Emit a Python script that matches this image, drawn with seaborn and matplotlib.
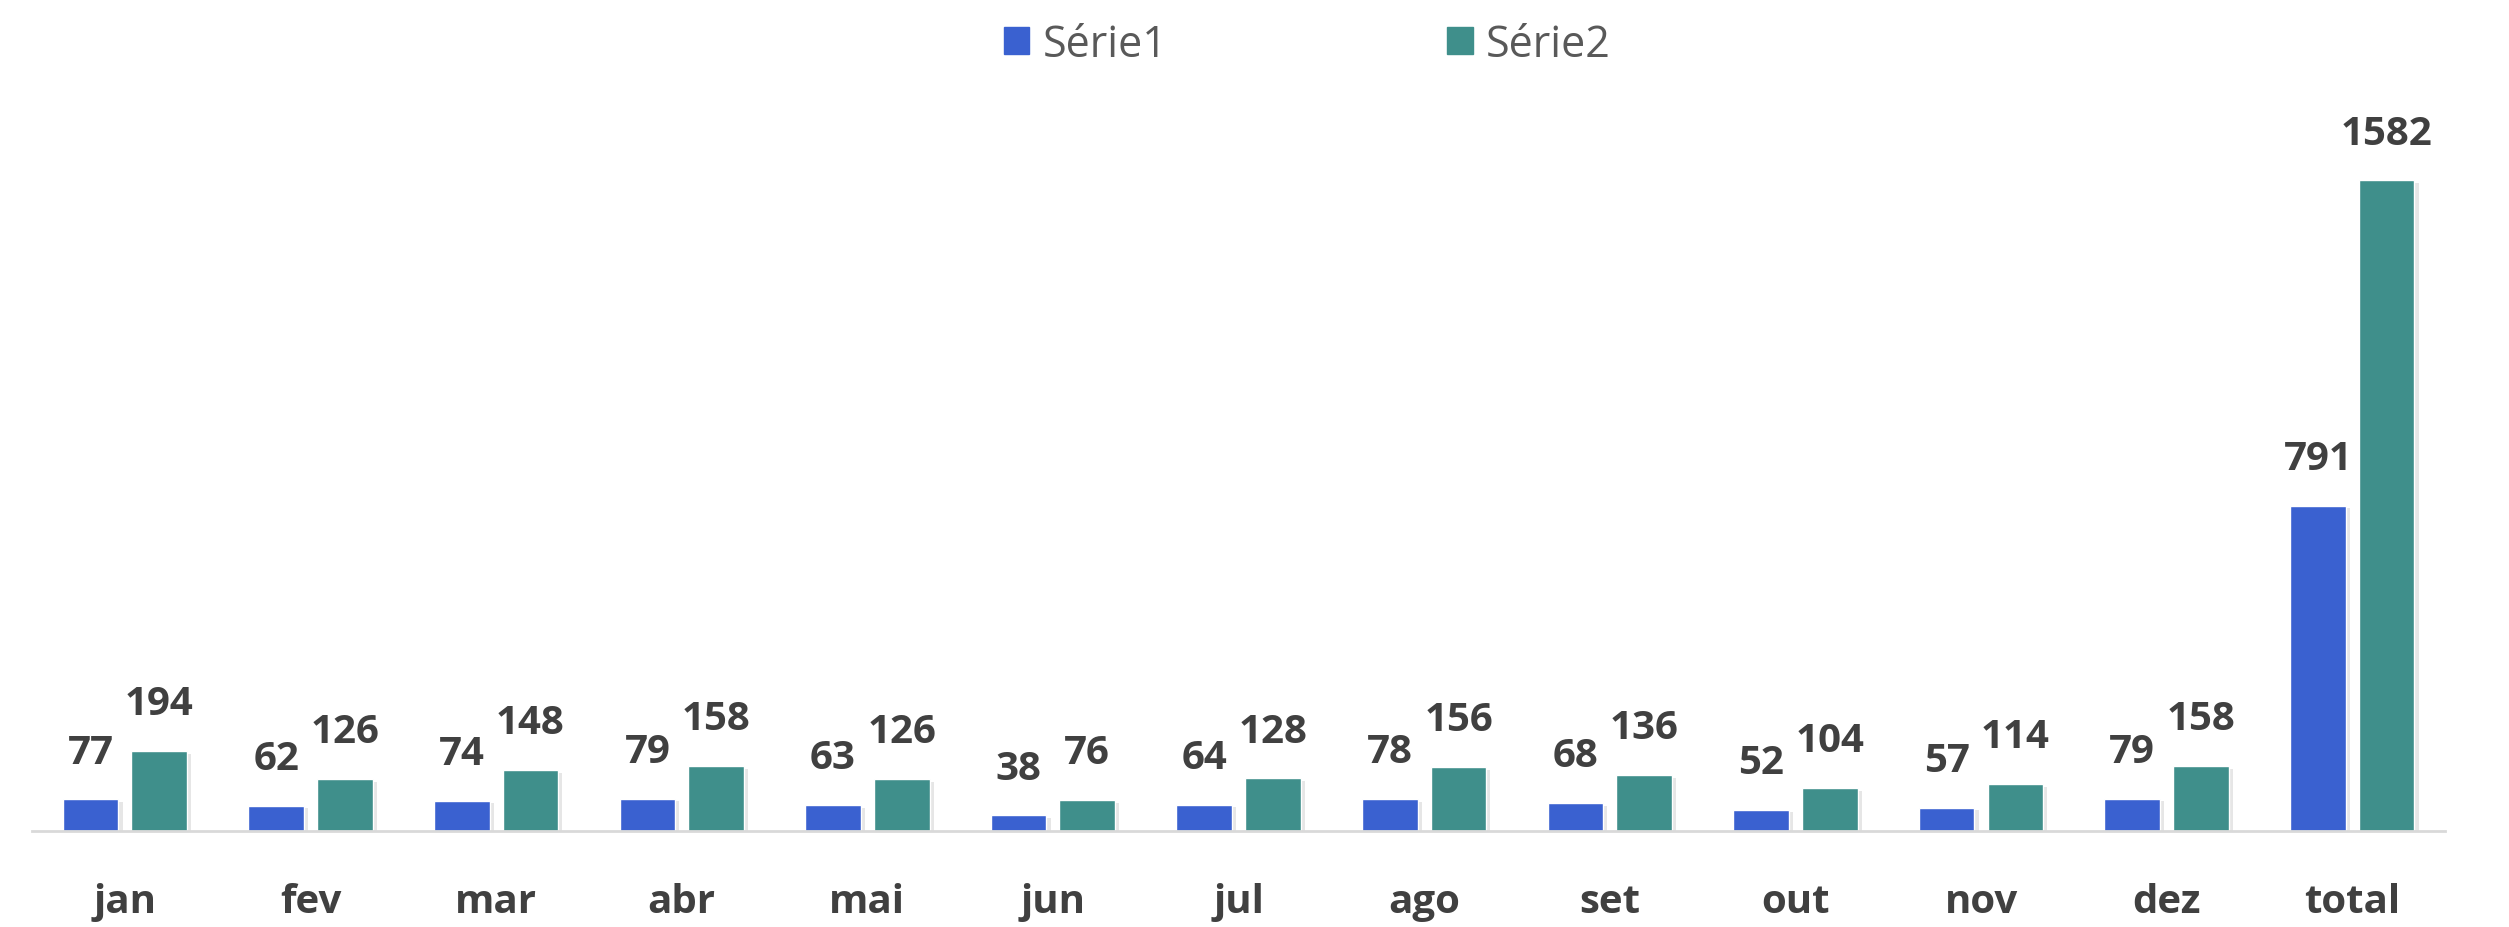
import pandas as pd
import matplotlib
matplotlib.use("Agg")
import matplotlib.pyplot as plt
import matplotlib.patheffects as pe
import seaborn as sns

# data
months = ["jan", "fev", "mar", "abr", "mai", "jun", "jul", "ago", "set", "out", "nov", "dez", "total"]
serie1 = [77, 62, 74, 79, 63, 38, 64, 78, 68, 52, 57, 79, 791]
serie2 = [194, 126, 148, 158, 126, 76, 128, 156, 136, 104, 114, 158, 1582]
series_names = ["Série1", "Série2"]
colors = ["#3a61d0", "#3f8f8b"]

df = pd.DataFrame({
    "mes": months * 2,
    "valor": serie1 + serie2,
    "serie": [series_names[0]] * len(months) + [series_names[1]] * len(months),
})

sns.set_style("white")
plt.rcParams["font.family"] = ["Open Sans", "DejaVu Sans"]

fig = plt.figure(figsize=(25.09, 9.28), dpi=100)
ax = fig.add_axes([0.0128, 0.1034, 0.9617, 0.8466])

sns.barplot(data=df, x="mes", y="valor", hue="serie", order=months,
            hue_order=series_names, palette=colors, width=0.74, gap=0.19,
            saturation=1, ax=ax, legend=False)

# soft shadow like the office chart
for patch in ax.patches:
    patch.set_path_effects([pe.SimplePatchShadow(offset=(3, -2), alpha=0.18, shadow_rgbFace="#777777"),
                            pe.Normal()])

for cont in ax.containers:
    ax.bar_label(cont, padding=20, fontsize=29, fontweight="bold", color="#404040")

ax.set_ylim(0, 1910)
ax.set_xlim(-0.5, len(months) - 0.5)
ax.set_xlabel("")
ax.set_ylabel("")
ax.set_yticks([])
for s in ["top", "right", "left"]:
    ax.spines[s].set_visible(False)
ax.spines["bottom"].set_color("#d9d9d9")
ax.spines["bottom"].set_linewidth(2)
ax.tick_params(axis="x", length=0, pad=37, labelsize=29, labelcolor="#404040")
for lbl in ax.get_xticklabels():
    lbl.set_fontweight("bold")

handles = [plt.Rectangle((0, 0), 1, 1, color=c) for c in colors]
fig.legend(handles, series_names, loc="center", bbox_to_anchor=(0.521, 0.951), ncol=2,
           frameon=False, fontsize=31, labelcolor="#595959", handlelength=0.6,
           handleheight=0.6, handletextpad=0.3, columnspacing=6.5)

fig.savefig("out.png", dpi=100)
